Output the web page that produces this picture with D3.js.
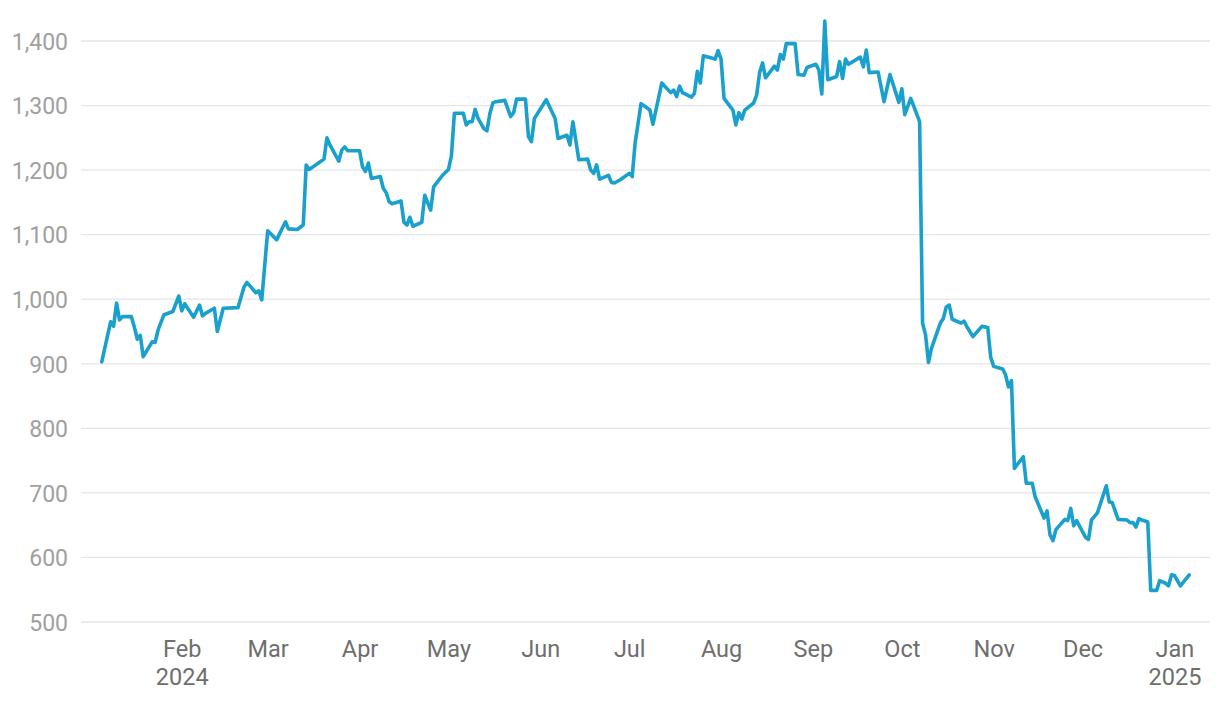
<!DOCTYPE html>
<html>
<head>
<meta charset="utf-8">
<script src="https://cdn.jsdelivr.net/npm/d3@7"></script>
<style>
  html, body { margin: 0; padding: 0; background: #fff; }
  svg { display: block; font-family: Roboto, "Noto Sans", sans-serif; }
</style>
</head>
<body>
<svg id="chart" width="1220" height="702"></svg>
<script>
const dates = [
  "2024-01-05","2024-01-08","2024-01-09","2024-01-10","2024-01-11","2024-01-12","2024-01-15","2024-01-16","2024-01-17","2024-01-18",
  "2024-01-19","2024-01-22","2024-01-23","2024-01-24","2024-01-26","2024-01-29","2024-01-31","2024-02-01","2024-02-02","2024-02-05",
  "2024-02-07","2024-02-08","2024-02-09","2024-02-12","2024-02-13","2024-02-15","2024-02-20","2024-02-22","2024-02-23","2024-02-26",
  "2024-02-27","2024-02-28","2024-03-01","2024-03-04","2024-03-07","2024-03-08","2024-03-11","2024-03-13","2024-03-14","2024-03-15",
  "2024-03-20","2024-03-21","2024-03-22","2024-03-25","2024-03-26","2024-03-27","2024-03-28","2024-04-01","2024-04-02","2024-04-03",
  "2024-04-04","2024-04-05","2024-04-08","2024-04-09","2024-04-10","2024-04-11","2024-04-12","2024-04-15","2024-04-16","2024-04-17",
  "2024-04-18","2024-04-19","2024-04-22","2024-04-23","2024-04-25","2024-04-26","2024-04-29","2024-05-01","2024-05-02","2024-05-03",
  "2024-05-06","2024-05-07","2024-05-08","2024-05-09","2024-05-10","2024-05-11","2024-05-13","2024-05-14","2024-05-15","2024-05-16",
  "2024-05-17","2024-05-20","2024-05-22","2024-05-23","2024-05-24","2024-05-27","2024-05-28","2024-05-29","2024-05-30","2024-06-03",
  "2024-06-06","2024-06-07","2024-06-10","2024-06-11","2024-06-12","2024-06-14","2024-06-17","2024-06-18","2024-06-19","2024-06-20",
  "2024-06-21","2024-06-24","2024-06-25","2024-06-26","2024-06-28","2024-07-01","2024-07-02","2024-07-03","2024-07-05","2024-07-08",
  "2024-07-09","2024-07-12","2024-07-15","2024-07-16","2024-07-17","2024-07-18","2024-07-19","2024-07-22","2024-07-23","2024-07-24",
  "2024-07-25","2024-07-26","2024-07-30","2024-07-31","2024-08-01","2024-08-02","2024-08-05","2024-08-06","2024-08-07","2024-08-08",
  "2024-08-09","2024-08-12","2024-08-13","2024-08-14","2024-08-15","2024-08-16","2024-08-19","2024-08-20","2024-08-21","2024-08-22",
  "2024-08-23","2024-08-26","2024-08-27","2024-08-29","2024-08-30","2024-09-02","2024-09-03","2024-09-04","2024-09-05","2024-09-06",
  "2024-09-09","2024-09-10","2024-09-11","2024-09-12","2024-09-13","2024-09-17","2024-09-18","2024-09-19","2024-09-20","2024-09-23",
  "2024-09-25","2024-09-27","2024-09-30","2024-10-01","2024-10-02","2024-10-04","2024-10-07","2024-10-08","2024-10-09","2024-10-10",
  "2024-10-11","2024-10-14","2024-10-15","2024-10-16","2024-10-17","2024-10-18","2024-10-21","2024-10-22","2024-10-23","2024-10-25",
  "2024-10-28","2024-10-30","2024-10-31","2024-11-01","2024-11-04","2024-11-05","2024-11-06","2024-11-07","2024-11-08","2024-11-11",
  "2024-11-12","2024-11-14","2024-11-15","2024-11-18","2024-11-19","2024-11-20","2024-11-21","2024-11-22","2024-11-25","2024-11-26",
  "2024-11-27","2024-11-28","2024-11-29","2024-12-02","2024-12-03","2024-12-04","2024-12-06","2024-12-09","2024-12-10","2024-12-11",
  "2024-12-13","2024-12-16","2024-12-17","2024-12-18","2024-12-19","2024-12-20","2024-12-21","2024-12-23","2024-12-24","2024-12-26",
  "2024-12-27","2024-12-29","2024-12-30","2024-12-31","2025-01-01","2025-01-03","2025-01-06"
];
const values = [
  903,965,958,994,968,973,973,957,938,944,
  911,934,933,952,976,981,1005,982,993,972,
  991,974,978,986,950,986,987,1019,1026,1010,
  1013,999,1106,1092,1120,1109,1108,1115,1208,1201,
  1217,1250,1239,1214,1231,1236,1230,1230,1205,1198,
  1211,1187,1190,1172,1165,1151,1148,1152,1119,1115,
  1127,1113,1119,1161,1138,1174,1192,1201,1222,1288,
  1288,1270,1275,1275,1294,1280,1264,1261,1288,1304,
  1306,1308,1283,1289,1310,1310,1252,1244,1280,1309,
  1280,1249,1254,1239,1275,1216,1217,1200,1195,1208,
  1186,1192,1181,1180,1185,1195,1190,1242,1303,1293,
  1271,1335,1320,1324,1314,1330,1320,1313,1319,1353,
  1335,1377,1372,1385,1372,1311,1293,1270,1289,1279,
  1293,1304,1316,1351,1366,1343,1361,1355,1379,1372,
  1396,1396,1348,1347,1359,1364,1355,1318,1431,1340,
  1345,1368,1342,1372,1364,1375,1360,1386,1351,1352,
  1306,1348,1305,1326,1286,1311,1275,963,945,902,
  924,963,970,988,991,969,963,966,957,942,
  958,956,910,896,892,883,864,874,738,756,
  715,715,694,661,672,635,626,643,659,657,
  676,649,657,631,628,658,669,711,686,685,
  659,658,654,654,647,660,658,655,549,549,
  564,560,556,573,572,556,573
];
const yTicks = [500,600,700,800,900,1000,1100,1200,1300,1400];
const xTickDates = ["2024-02-01","2024-03-01","2024-04-01","2024-05-01","2024-06-01","2024-07-01",
  "2024-08-01","2024-09-01","2024-10-01","2024-11-01","2024-12-01","2025-01-01"];

const parse = d3.timeParse("%Y-%m-%d");
const data = dates.map((d, i) => ({date: parse(d), value: values[i]}));

const svg = d3.select("#chart");
const x = d3.scaleTime()
  .domain([new Date(2023, 11, 29), new Date(2025, 0, 13)])
  .range([81, 1210]);
const y = d3.scaleLinear().domain([500, 1400]).range([622, 41]);

// gridlines
svg.append("g").selectAll("line").data(yTicks).join("line")
  .attr("x1", 81).attr("x2", 1210)
  .attr("y1", d => y(d)).attr("y2", d => y(d))
  .attr("stroke", "#e5e5e5").attr("stroke-width", 1.3);

// y axis labels
const yAxis = d3.axisLeft(y).tickValues(yTicks).tickSize(0).tickPadding(0)
  .tickFormat(d3.format(","));
const gy = svg.append("g").attr("transform", "translate(68,0)").call(yAxis);
gy.select(".domain").remove();
gy.selectAll("text").attr("fill", "#a0a0a0").attr("font-size", 23)
  .attr("font-family", "Roboto, sans-serif").attr("dy", "0.36em");

// x axis labels
const xTicks = xTickDates.map(parse);
const xAxis = d3.axisBottom(x).tickValues(xTicks).tickSize(0).tickPadding(0)
  .tickFormat(d3.timeFormat("%b"));
const gx = svg.append("g").call(xAxis);
gx.select(".domain").remove();
gx.selectAll("text").attr("fill", "#6e6e6e").attr("font-size", 23.5)
  .attr("font-family", "Roboto, sans-serif").attr("y", 657).attr("dy", 0);
gx.selectAll(".tick").each(function(d, i) {
  if (i === 0 || d.getMonth() === 0) {
    d3.select(this).append("text")
      .attr("fill", "#6e6e6e").attr("font-size", 23.5)
      .attr("font-family", "Roboto, sans-serif")
      .attr("text-anchor", "middle")
      .attr("y", 685)
      .text(d3.timeFormat("%Y")(d));
  }
});

// line
const line = d3.line().x(d => x(d.date)).y(d => y(d.value));
svg.append("path").datum(data)
  .attr("fill", "none")
  .attr("stroke", "#1aa0cd")
  .attr("stroke-width", 3.6)
  .attr("stroke-linejoin", "round")
  .attr("stroke-linecap", "round")
  .attr("d", line);
</script>
</body>
</html>
